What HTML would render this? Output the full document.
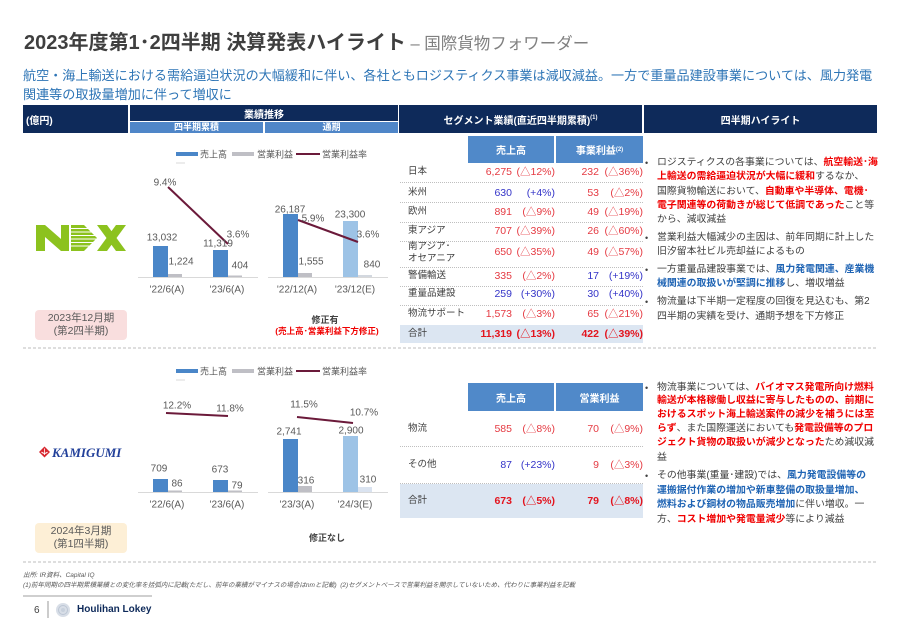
<!DOCTYPE html>
<html><head><meta charset="utf-8">
<style>
*{margin:0;padding:0;box-sizing:border-box}
html,body{width:900px;height:618px;background:#fff;overflow:hidden}
body{font-family:"Liberation Sans","Noto Sans CJK JP",sans-serif}
#p{position:relative;width:900px;height:618px;overflow:hidden;background:#fff}
.a{position:absolute;white-space:nowrap}
.hd{position:absolute;background:#0E2A5A;color:#fff;font-weight:bold;font-size:10px;display:flex;align-items:center;justify-content:center;white-space:nowrap}
.sh{position:absolute;background:#4F86C8;color:#fff;font-weight:bold;font-size:9px;line-height:11px;text-align:center;white-space:nowrap;overflow:visible}
.th{position:absolute;background:#5089C9;color:#fff;font-weight:bold;font-size:10px;display:flex;align-items:center;justify-content:center}
.hl{position:absolute;left:657px;font-size:9.9px;line-height:14px;color:#404040;white-space:nowrap}
.bul{position:absolute;left:645px;font-size:9px;line-height:14px;color:#404040}
.r{color:#F00000;font-weight:bold}
.b{color:#1F64B4;font-weight:bold}
.lab{position:absolute;left:408px;font-size:9.5px;color:#404040;line-height:12px;white-space:nowrap}
.n{position:absolute;font-size:10.5px;line-height:12px;text-align:right;white-space:nowrap}
.c1{right:388px}.c2{right:345px}.c3{right:301px}.c4{right:257px}
.rd{color:#E53A42}.bl{color:#3434C8}.tt{color:#E3141E;font-weight:bold}
.sep{position:absolute;left:400px;width:243px;border-top:1px dotted #BFBFBF;height:0}
</style></head>
<body><div id="p">

<!-- Title -->
<div class="a" style="left:24px;top:30px;font-size:20px;line-height:26px;font-weight:bold;color:#3F3F3F;">2023年度第1･2四半期 決算発表ハイライト<span style="font-size:16.5px;font-weight:normal;color:#808080;"> – 国際貨物フォワーダー</span></div>

<!-- Subtitle -->
<div class="a" style="left:23px;top:66px;font-size:13.1px;line-height:19px;color:#2E75B6;">航空・海上輸送における需給逼迫状況の大幅緩和に伴い、各社ともロジスティクス事業は減収減益。一方で重量品建設事業については、風力発電</div>
<div class="a" style="left:23px;top:85px;font-size:13.1px;line-height:19px;color:#2E75B6;">関連等の取扱量増加に伴って増収に</div>

<!-- Header row -->
<div class="hd" style="left:23px;top:105px;width:105px;height:28px;justify-content:flex-start;padding-left:3px;">(億円)</div>
<div class="hd" style="left:130px;top:105px;width:268px;height:16px;">業績推移</div>
<div class="sh" style="left:130px;top:122px;width:133px;height:11px;">四半期累積</div>
<div class="sh" style="left:265px;top:122px;width:133px;height:11px;">通期</div>
<div class="hd" style="left:399px;top:105px;width:243px;height:28px;">セグメント業績(直近四半期累積)<sup style="font-size:6px;position:relative;top:-1px;">(1)</sup></div>
<div class="hd" style="left:644px;top:105px;width:233px;height:28px;">四半期ハイライト</div>

<!-- Charts SVG -->
<svg class="a" style="left:0;top:0;" width="900" height="618" viewBox="0 0 900 618" font-family="Liberation Sans, Noto Sans CJK JP, sans-serif">
  <line x1="23" y1="348" x2="877" y2="348" stroke="#A6A6A6" stroke-width="0.8" stroke-dasharray="3,2"/>
  <line x1="23" y1="562" x2="877" y2="562" stroke="#A6A6A6" stroke-width="0.8" stroke-dasharray="3,2"/>

  <!-- NX legend -->
  <g font-size="9" fill="#595959">
    <rect x="176" y="152" width="22" height="4" fill="#4A86C8"/>
    <text x="200" y="157.5">売上高</text>
    <rect x="232" y="152" width="22" height="4" fill="#BFBFC5"/>
    <text x="257" y="157.5">営業利益</text>
    <line x1="296" y1="154" x2="320" y2="154" stroke="#6B1A3A" stroke-width="2"/>
    <text x="322" y="157.5">営業利益率</text>
    <line x1="176" y1="163" x2="185" y2="163" stroke="#D0D0D0" stroke-width="0.8"/>
  </g>
  <line x1="138" y1="277.5" x2="258" y2="277.5" stroke="#D9D9D9" stroke-width="1"/>
  <line x1="268" y1="277.5" x2="388" y2="277.5" stroke="#D9D9D9" stroke-width="1"/>
  <rect x="153" y="246" width="15" height="31" fill="#4A86C8"/>
  <rect x="168" y="274" width="14" height="3" fill="#BFBFC5"/>
  <rect x="213" y="250" width="15" height="27" fill="#4A86C8"/>
  <rect x="228" y="275.5" width="14" height="1.5" fill="#BFBFC5"/>
  <rect x="283" y="214" width="15" height="63" fill="#4A86C8"/>
  <rect x="298" y="273" width="14" height="4" fill="#BFBFC5"/>
  <rect x="343" y="221" width="15" height="56" fill="#9DC3E6"/>
  <rect x="358" y="275" width="14" height="2" fill="#D3D8DF"/>
  <line x1="168" y1="187" x2="228" y2="244" stroke="#6B1A3A" stroke-width="2"/>
  <line x1="298" y1="220" x2="358" y2="242" stroke="#6B1A3A" stroke-width="2"/>
  <g font-size="10" fill="#595959" text-anchor="middle">
    <text x="162" y="240.5">13,032</text>
    <text x="181" y="264.5">1,224</text>
    <text x="218" y="246.5">11,319</text>
    <text x="238" y="237.5">3.6%</text>
    <text x="240" y="268.5">404</text>
    <text x="165" y="185.5">9.4%</text>
    <text x="290" y="212.5">26,187</text>
    <text x="313" y="221.5">5.9%</text>
    <text x="350" y="217.5">23,300</text>
    <text x="368" y="237.5">3.6%</text>
    <text x="311" y="264.5">1,555</text>
    <text x="372" y="267.5">840</text>
    <text x="167" y="292.5">'22/6(A)</text>
    <text x="227" y="292.5">'23/6(A)</text>
    <text x="297" y="292.5">'22/12(A)</text>
    <text x="355" y="292.5">'23/12(E)</text>
  </g>
  <text x="325" y="323" font-size="9" font-weight="bold" fill="#404040" text-anchor="middle">修正有</text>
  <text x="327" y="334" font-size="8.5" font-weight="bold" fill="#F00000" text-anchor="middle">(売上高･営業利益下方修正)</text>

  <!-- NX logo -->
  <g fill="#8CC21E">
    <polygon points="36,225 45,225 61,239 61,225 69,225 69,251 61,251 45,237 45,251 36,251"/>
    <polygon points="71,225 84,225 97,238 84,251 71,251"/>
    <polygon points="97,225 107,225 126,251 116,251"/>
    <polygon points="116,225 126,225 107,251 97,251"/>
  </g>
  <g stroke="#fff" stroke-width="1">
    <line x1="71" y1="228.5" x2="90" y2="228.5"/>
    <line x1="71" y1="232" x2="93" y2="232"/>
    <line x1="71" y1="235.5" x2="96" y2="235.5"/>
    <line x1="71" y1="239" x2="97" y2="239"/>
    <line x1="71" y1="242.5" x2="95" y2="242.5"/>
    <line x1="71" y1="246" x2="91" y2="246"/>
  </g>

  <!-- KAMIGUMI legend -->
  <g font-size="9" fill="#595959">
    <rect x="176" y="369" width="22" height="4" fill="#4A86C8"/>
    <text x="200" y="374.5">売上高</text>
    <rect x="232" y="369" width="22" height="4" fill="#BFBFC5"/>
    <text x="257" y="374.5">営業利益</text>
    <line x1="296" y1="371" x2="320" y2="371" stroke="#6B1A3A" stroke-width="2"/>
    <text x="322" y="374.5">営業利益率</text>
    <line x1="176" y1="380" x2="185" y2="380" stroke="#D0D0D0" stroke-width="0.8"/>
  </g>
  <line x1="138" y1="492.5" x2="258" y2="492.5" stroke="#D9D9D9" stroke-width="1"/>
  <line x1="268" y1="492.5" x2="388" y2="492.5" stroke="#D9D9D9" stroke-width="1"/>
  <rect x="153" y="479" width="15" height="13" fill="#4A86C8"/>
  <rect x="168" y="490.5" width="14" height="1.5" fill="#BFBFC5"/>
  <rect x="213" y="480" width="15" height="12" fill="#4A86C8"/>
  <rect x="228" y="490.5" width="14" height="1.5" fill="#BFBFC5"/>
  <rect x="283" y="439" width="15" height="53" fill="#4A86C8"/>
  <rect x="298" y="486" width="14" height="6" fill="#BFBFC5"/>
  <rect x="343" y="436" width="15" height="56" fill="#9DC3E6"/>
  <rect x="358" y="487" width="14" height="5" fill="#DAE3F0"/>
  <line x1="166" y1="413" x2="228" y2="416" stroke="#6B1A3A" stroke-width="2"/>
  <line x1="297" y1="417" x2="353" y2="423" stroke="#6B1A3A" stroke-width="2"/>
  <g font-size="10" fill="#595959" text-anchor="middle">
    <text x="159" y="471.5">709</text>
    <text x="177" y="486.5">86</text>
    <text x="220" y="472.5">673</text>
    <text x="237" y="488.5">79</text>
    <text x="177" y="408.5">12.2%</text>
    <text x="230" y="411.5">11.8%</text>
    <text x="304" y="407.5">11.5%</text>
    <text x="364" y="415.5">10.7%</text>
    <text x="289" y="434.5">2,741</text>
    <text x="351" y="433.5">2,900</text>
    <text x="306" y="483.5">316</text>
    <text x="368" y="482.5">310</text>
    <text x="167" y="507.5">'22/6(A)</text>
    <text x="227" y="507.5">'23/6(A)</text>
    <text x="297" y="507.5">'23/3(A)</text>
    <text x="355" y="507.5">'24/3(E)</text>
  </g>
  <text x="327" y="541" font-size="9" font-weight="bold" fill="#404040" text-anchor="middle">修正なし</text>

  <!-- KAMIGUMI logo -->
  <polygon points="39,452 44.5,446.5 50,452 44.5,457.5" fill="#D7262E"/>
  <path d="M41.5,452 Q44.5,455 47.5,452" stroke="#fff" stroke-width="1" fill="none"/>
  <line x1="44.5" y1="448.5" x2="44.5" y2="455" stroke="#fff" stroke-width="0.8"/>
  <text x="52" y="457" font-family="Liberation Serif, serif" font-style="italic" font-weight="bold" font-size="13" fill="#22409A">KAMIGUMI</text>

  <!-- footer -->
  <line x1="23" y1="596" x2="152" y2="596" stroke="#7F7F7F" stroke-width="0.8"/>
  <line x1="48" y1="601" x2="48" y2="618" stroke="#7F7F7F" stroke-width="0.8"/>
  <circle cx="63" cy="610" r="7" fill="#D8DEE7"/>
  <circle cx="63" cy="610" r="4.5" fill="none" stroke="#BCC6D4" stroke-width="1"/>
  <circle cx="63" cy="610" r="2" fill="#C7D0DC"/>
</svg>

<!-- Label boxes -->
<div class="a" style="left:35px;top:310px;width:92px;height:30px;background:#F9DEDE;border-radius:4px;font-size:10.5px;line-height:13px;color:#595959;text-align:center;padding-top:2px;">2023年12月期<br>(第2四半期)</div>
<div class="a" style="left:35px;top:523px;width:92px;height:30px;background:#FDEFD6;border-radius:4px;font-size:10.5px;line-height:13px;color:#595959;text-align:center;padding-top:2px;">2024年3月期<br>(第1四半期)</div>

<!-- NX segment table -->
<div class="th" style="left:468px;top:136px;width:86px;height:27px;">売上高</div>
<div class="th" style="left:556px;top:136px;width:87px;height:27px;">事業利益<sup style="font-size:6px;">(2)</sup></div>

<div class="sep" style="top:182px"></div>
<div class="sep" style="top:202px"></div>
<div class="sep" style="top:222px"></div>
<div class="sep" style="top:241px"></div>
<div class="sep" style="top:267px"></div>
<div class="sep" style="top:286px"></div>
<div class="sep" style="top:305px"></div>
<div class="a" style="left:400px;top:325px;width:243px;height:18px;background:#DCE6F2;"></div>

<div class="lab" style="top:166px">日本</div>
<div class="n c1 rd" style="top:166px">6,275</div><div class="n c2 rd" style="top:166px">(△12%)</div><div class="n c3 rd" style="top:166px">232</div><div class="n c4 rd" style="top:166px">(△36%)</div>
<div class="lab" style="top:187px">米州</div>
<div class="n c1 bl" style="top:187px">630</div><div class="n c2 bl" style="top:187px">(+4%)</div><div class="n c3 rd" style="top:187px">53</div><div class="n c4 rd" style="top:187px">(△2%)</div>
<div class="lab" style="top:206px">欧州</div>
<div class="n c1 rd" style="top:206px">891</div><div class="n c2 rd" style="top:206px">(△9%)</div><div class="n c3 rd" style="top:206px">49</div><div class="n c4 rd" style="top:206px">(△19%)</div>
<div class="lab" style="top:225px">東アジア</div>
<div class="n c1 rd" style="top:225px">707</div><div class="n c2 rd" style="top:225px">(△39%)</div><div class="n c3 rd" style="top:225px">26</div><div class="n c4 rd" style="top:225px">(△60%)</div>
<div class="lab" style="top:241px">南アジア･<br>オセアニア</div>
<div class="n c1 rd" style="top:246px">650</div><div class="n c2 rd" style="top:246px">(△35%)</div><div class="n c3 rd" style="top:246px">49</div><div class="n c4 rd" style="top:246px">(△57%)</div>
<div class="lab" style="top:270px">警備輸送</div>
<div class="n c1 rd" style="top:270px">335</div><div class="n c2 rd" style="top:270px">(△2%)</div><div class="n c3 bl" style="top:270px">17</div><div class="n c4 bl" style="top:270px">(+19%)</div>
<div class="lab" style="top:288px">重量品建設</div>
<div class="n c1 bl" style="top:288px">259</div><div class="n c2 bl" style="top:288px">(+30%)</div><div class="n c3 bl" style="top:288px">30</div><div class="n c4 bl" style="top:288px">(+40%)</div>
<div class="lab" style="top:308px">物流サポート</div>
<div class="n c1 rd" style="top:308px">1,573</div><div class="n c2 rd" style="top:308px">(△3%)</div><div class="n c3 rd" style="top:308px">65</div><div class="n c4 rd" style="top:308px">(△21%)</div>
<div class="lab" style="top:328px">合計</div>
<div class="n c1 tt" style="top:328px">11,319</div><div class="n c2 tt" style="top:328px">(△13%)</div><div class="n c3 tt" style="top:328px">422</div><div class="n c4 tt" style="top:328px">(△39%)</div>

<!-- KAMIGUMI segment table -->
<div class="th" style="left:468px;top:383px;width:86px;height:28px;">売上高</div>
<div class="th" style="left:556px;top:383px;width:87px;height:28px;">営業利益</div>
<div class="sep" style="top:446px"></div>
<div class="sep" style="top:483px"></div>
<div class="a" style="left:400px;top:484px;width:243px;height:34px;background:#DCE6F2;"></div>

<div class="lab" style="top:423px">物流</div>
<div class="n c1 rd" style="top:423px">585</div><div class="n c2 rd" style="top:423px">(△8%)</div><div class="n c3 rd" style="top:423px">70</div><div class="n c4 rd" style="top:423px">(△9%)</div>
<div class="lab" style="top:459px">その他</div>
<div class="n c1 bl" style="top:459px">87</div><div class="n c2 bl" style="top:459px">(+23%)</div><div class="n c3 rd" style="top:459px">9</div><div class="n c4 rd" style="top:459px">(△3%)</div>
<div class="lab" style="top:495px">合計</div>
<div class="n c1 tt" style="top:495px">673</div><div class="n c2 tt" style="top:495px">(△5%)</div><div class="n c3 tt" style="top:495px">79</div><div class="n c4 tt" style="top:495px">(△8%)</div>

<!-- NX highlights -->
<div class="bul" style="top:156px">•</div>
<div class="hl" style="top:156px">ロジスティクスの各事業については、<span class="r">航空輸送･海</span></div>
<div class="hl" style="top:170px"><span class="r">上輸送の需給逼迫状況が大幅に緩和</span>するなか、</div>
<div class="hl" style="top:185px">国際貨物輸送において、<span class="r">自動車や半導体、電機･</span></div>
<div class="hl" style="top:199px"><span class="r">電子関連等の荷動きが総じて低調であった</span>こと等</div>
<div class="hl" style="top:213px">から、減収減益</div>
<div class="bul" style="top:231px">•</div>
<div class="hl" style="top:231px">営業利益大幅減少の主因は、前年同期に計上した</div>
<div class="hl" style="top:245px">旧汐留本社ビル売却益によるもの</div>
<div class="bul" style="top:263px">•</div>
<div class="hl" style="top:263px">一方重量品建設事業では、<span class="b">風力発電関連、産業機</span></div>
<div class="hl" style="top:277px"><span class="b">械関連の取扱いが堅調に推移</span>し、増収増益</div>
<div class="bul" style="top:295px">•</div>
<div class="hl" style="top:295px">物流量は下半期一定程度の回復を見込むも、第2</div>
<div class="hl" style="top:310px">四半期の実績を受け、通期予想を下方修正</div>

<!-- KAMIGUMI highlights -->
<div class="bul" style="top:381px">•</div>
<div class="hl" style="top:381px">物流事業については、<span class="r">バイオマス発電所向け燃料</span></div>
<div class="hl" style="top:394px"><span class="r">輸送が本格稼働し収益に寄与したものの、前期に</span></div>
<div class="hl" style="top:408px"><span class="r">おけるスポット海上輸送案件の減少を補うには至</span></div>
<div class="hl" style="top:422px"><span class="r">らず</span>、また国際運送においても<span class="r">発電設備等のプロ</span></div>
<div class="hl" style="top:436px"><span class="r">ジェクト貨物の取扱いが減少となった</span>ため減収減</div>
<div class="hl" style="top:451px">益</div>
<div class="bul" style="top:469px">•</div>
<div class="hl" style="top:469px">その他事業(重量･建設)では、<span class="b">風力発電設備等の</span></div>
<div class="hl" style="top:484px"><span class="b">運搬据付作業の増加や新車整備の取扱量増加、</span></div>
<div class="hl" style="top:498px"><span class="b">燃料および鋼材の物品販売増加</span>に伴い増収。一</div>
<div class="hl" style="top:513px">方、<span class="r">コスト増加や発電量減少</span>等により減益</div>

<!-- Footer -->
<div class="a" style="left:23px;top:571px;font-size:6.5px;line-height:9px;color:#595959;font-style:italic;">出所: IR資料、Capital IQ</div>
<div class="a" style="left:23px;top:581px;font-size:6.5px;line-height:9px;color:#595959;font-style:italic;">(1)前年同期の四半期累積業績との変化率を括弧内に記載(ただし、前年の業績がマイナスの場合はnmと記載)&nbsp; (2)セグメントベースで営業利益を開示していないため、代わりに事業利益を記載</div>
<div class="a" style="left:34px;top:604px;font-size:10px;line-height:13px;color:#404040;">6</div>
<div class="a" style="left:77px;top:603px;font-size:10px;line-height:14px;font-weight:bold;color:#0E2A5A;">Houlihan Lokey</div>

</div></body></html>
